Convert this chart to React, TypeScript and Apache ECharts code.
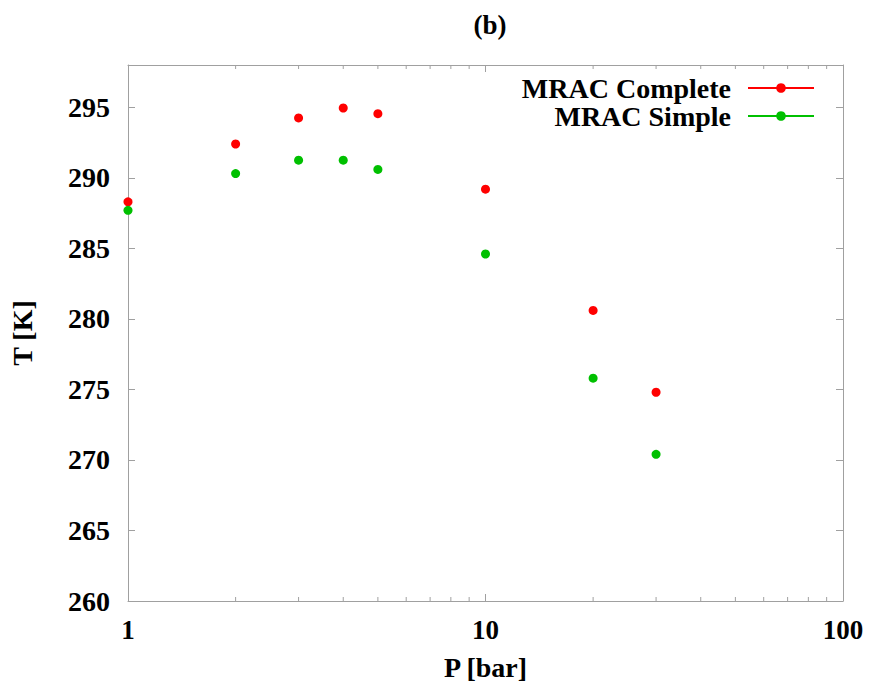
import React, { useEffect, useRef } from "react";
import * as echarts from "echarts";

// Pressure [bar] and temperature [K] for the two MRAC variants
const pressure = [1, 2, 3, 4, 5, 10, 20, 30];
const tempComplete = [288.3, 292.4, 294.25, 294.95, 294.55, 289.2, 280.6, 274.8];
const tempSimple = [287.7, 290.3, 291.25, 291.25, 290.6, 284.6, 275.8, 270.4];
const seriesNames = ["MRAC Complete", "MRAC Simple"];
const minorTicks = [2, 3, 4, 5, 6, 7, 8, 9, 20, 30, 40, 50, 60, 70, 80, 90];

const Y_MIN = 260;
const Y_MAX = 298;
const FONT = "'Liberation Serif', 'Times New Roman', serif";
const AXIS_GRAY = "#a0a0a0";

export default function App() {
  const ref = useRef<HTMLDivElement>(null);

  useEffect(() => {
    if (!ref.current) return;
    const chart = echarts.init(ref.current, null, { renderer: "svg" });

    const labelStyle = { fontFamily: FONT, fontWeight: "bold" as const, fontSize: 28, color: "#000" };

    chart.setOption({
      animation: false,
      backgroundColor: "#fff",
      title: {
        text: "(b)",
        left: 485,
        top: 6,
        textAlign: "center",
        textStyle: { ...labelStyle, fontSize: 27 },
      },
      grid: { left: 128, right: 28, top: 65, bottom: 84, containLabel: false },
      legend: {
        orient: "vertical",
        right: 51,
        top: 69,
        align: "right",
        itemWidth: 66,
        itemHeight: 12,
        itemGap: 0,
        data: seriesNames,
        lineStyle: { opacity: 1, width: 2 },
        textStyle: { ...labelStyle, fontSize: 28, lineHeight: 27, padding: [0, 12, 0, 0] },
      },
      xAxis: [
        {
          type: "log",
          logBase: 10,
          min: 1,
          max: 100,
          position: "bottom",
          name: "P [bar]",
          nameLocation: "middle",
          nameGap: 52,
          nameTextStyle: labelStyle,
          axisLine: { show: true, lineStyle: { color: AXIS_GRAY, width: 1 } },
          axisTick: { show: true, inside: true, length: 7, lineStyle: { color: AXIS_GRAY } },
          axisLabel: { ...labelStyle, fontSize: 27, margin: 15 },
          splitLine: { show: false },
        },
        {
          type: "log",
          logBase: 10,
          min: 1,
          max: 100,
          position: "top",
          axisLine: { show: true, lineStyle: { color: AXIS_GRAY, width: 1 } },
          axisTick: { show: true, inside: true, length: 7, lineStyle: { color: AXIS_GRAY } },
          axisLabel: { show: false },
          splitLine: { show: false },
        },
      ],
      yAxis: [
        {
          type: "value",
          min: Y_MIN,
          max: Y_MAX,
          interval: 5,
          position: "left",
          name: "T [K]",
          nameLocation: "middle",
          nameGap: 92,
          nameTextStyle: labelStyle,
          axisLine: { show: true, lineStyle: { color: AXIS_GRAY, width: 1 } },
          axisTick: { show: true, inside: true, length: 7, lineStyle: { color: AXIS_GRAY } },
          axisLabel: {
            ...labelStyle,
            margin: 18,
            formatter: (v: number) => (v % 5 === 0 ? String(v) : ""),
          },
          splitLine: { show: false },
        },
        {
          type: "value",
          min: Y_MIN,
          max: Y_MAX,
          interval: 5,
          position: "right",
          axisLine: { show: true, lineStyle: { color: AXIS_GRAY, width: 1 } },
          axisTick: { show: true, inside: true, length: 7, lineStyle: { color: AXIS_GRAY } },
          axisLabel: { show: false },
          splitLine: { show: false },
        },
      ],
      series: [
        {
          name: seriesNames[0],
          type: "line",
          data: pressure.map((p, i) => [p, tempComplete[i]]),
          symbol: "circle",
          symbolSize: 9,
          showSymbol: true,
          itemStyle: { color: "#ff0000" },
          lineStyle: { color: "#ff0000", opacity: 0 },
        },
        {
          name: seriesNames[1],
          type: "line",
          data: pressure.map((p, i) => [p, tempSimple[i]]),
          symbol: "circle",
          symbolSize: 9,
          showSymbol: true,
          itemStyle: { color: "#00c000" },
          lineStyle: { color: "#00c000", opacity: 0 },
        },
        {
          // logarithmic minor ticks on the bottom and top frame
          type: "custom",
          silent: true,
          data: minorTicks.map((v) => [v, Y_MIN]),
          renderItem: (_params: any, api: any) => {
            const x = api.value(0);
            const b = api.coord([x, Y_MIN]);
            const t = api.coord([x, Y_MAX]);
            const style = { stroke: AXIS_GRAY, lineWidth: 1 };
            return {
              type: "group",
              children: [
                { type: "line", shape: { x1: b[0], y1: b[1], x2: b[0], y2: b[1] - 4 }, style },
                { type: "line", shape: { x1: t[0], y1: t[1], x2: t[0], y2: t[1] + 4 }, style },
              ],
            };
          },
        },
      ],
    });

    return () => chart.dispose();
  }, []);

  return (
    <div
      ref={ref}
      style={{ position: "fixed", left: 0, top: 0, width: 871, height: 686, background: "#fff" }}
    />
  );
}
